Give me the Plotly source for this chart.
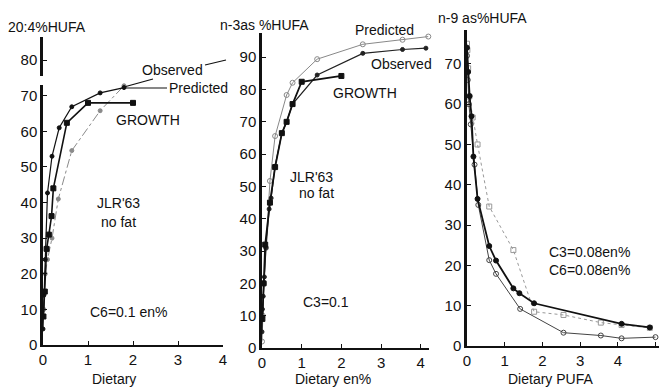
import plotly.graph_objects as go

W, H = 659, 388

# ---------------- data ----------------
# Panel 1: 20:4 as % HUFA vs dietary (en%)
p1_obs_x = [0.0, 0.02, 0.05, 0.10, 0.20, 0.36, 0.64, 1.27, 1.80]
p1_obs_y = [4.5, 14, 24, 42.7, 53, 61, 66.9, 70.8, 72.3]
p1_gro_x = [0.01, 0.04, 0.08, 0.13, 0.19, 0.23, 0.53, 1.0, 2.0]
p1_gro_y = [8, 15, 27, 31, 36.2, 44, 62.4, 68, 68]
p1_pre_x = [0.02, 0.05, 0.10, 0.20, 0.34, 0.64, 1.27, 1.80]
p1_pre_y = [10, 20, 24, 30, 41, 54.6, 65.8, 72.8]

# Panel 2: n-3 as % HUFA vs dietary en%
p2_pre_x = [0.0, 0.02, 0.05, 0.10, 0.20, 0.33, 0.62, 0.77, 1.39, 2.54, 3.54, 4.19]
p2_pre_y = [2, 10, 20, 31, 51.7, 65.6, 78.3, 82.1, 89.4, 94.0, 95.4, 96.4]
p2_obs_x = [0.0, 0.01, 0.03, 0.06, 0.10, 0.18, 0.23, 0.33, 0.50, 0.62, 0.77, 1.39, 2.54, 3.54, 4.13]
p2_obs_y = [5, 12, 16, 22, 31, 43, 46.4, 56.3, 66.5, 70, 75.5, 84.5, 91.2, 92.4, 92.8]
p2_gro_x = [0.01, 0.04, 0.08, 0.20, 0.33, 0.50, 0.62, 0.77, 1.0, 2.0]
p2_gro_y = [9, 20, 32, 45, 56, 66.5, 70, 75.5, 82.4, 84.2]

# Panel 3: n-9 as % HUFA vs dietary PUFA
p3_bold_x = [0.0, 0.03, 0.07, 0.12, 0.17, 0.28, 0.59, 0.77, 1.23, 1.39, 1.78, 4.10, 4.85]
p3_bold_y = [74, 68, 62, 57, 47, 36.5, 24.8, 21.2, 14.3, 13.1, 10.6, 5.5, 4.6]
p3_sq_x = [0.0, 0.01, 0.03, 0.06, 0.15, 0.28, 0.59, 1.23, 1.78, 2.56, 3.55, 4.10, 4.85]
p3_sq_y = [75, 73.4, 68.9, 61.9, 56.7, 50, 34.6, 23.8, 8.5, 7.7, 5.8, 5.2, 4.5]
p3_ci_x = [0.0, 0.02, 0.05, 0.10, 0.20, 0.30, 0.59, 0.77, 1.41, 2.56, 3.55, 4.10, 5.0]
p3_ci_y = [72, 66, 60, 55, 45, 35, 21.3, 17.9, 9.2, 3.3, 2.6, 1.9, 2.2]

p1_ticks = [0, 10, 20, 30, 40, 50, 60, 70, 80]
p2_ticks = [0, 10, 20, 30, 40, 50, 60, 70, 80, 90]
p3_ticks = [0, 10, 20, 30, 40, 50, 60, 70]

FONT = "Liberation Sans"
fig = go.Figure()

def tr(x, y, ax, color, width, dash, symbol, msize):
    fig.add_trace(go.Scatter(
        x=x, y=y, xaxis="x" + ax, yaxis="y" + ax, mode="lines+markers",
        line=dict(color=color, width=width, dash=dash),
        marker=dict(symbol=symbol, size=msize, color=color,
                    line=dict(color=color, width=1)),
        showlegend=False, hoverinfo="skip", cliponaxis=False))

# panel 1
tr(p1_pre_x, p1_pre_y, "", "#8a8a8a", 1, "dashdot", "circle", 4)
tr(p1_obs_x, p1_obs_y, "", "#111", 1.2, "solid", "circle", 4)
tr(p1_gro_x, p1_gro_y, "", "#111", 1.6, "solid", "square", 5)
# panel 2
tr(p2_pre_x, p2_pre_y, "2", "#888", 1, "solid", "circle-open", 5)
tr(p2_obs_x, p2_obs_y, "2", "#222", 1.2, "solid", "circle", 4)
tr(p2_gro_x, p2_gro_y, "2", "#111", 1.8, "solid", "square", 5)
# panel 3
tr(p3_sq_x, p3_sq_y, "3", "#999", 1, "dot", "square-open", 5)
tr(p3_ci_x, p3_ci_y, "3", "#444", 1, "solid", "circle-open", 5)
tr(p3_bold_x, p3_bold_y, "3", "#111", 1.8, "solid", "circle", 5)

def xa(domain, rng, ticks, anchor):
    return dict(domain=domain, range=rng, tickvals=ticks, ticktext=[str(t) for t in ticks],
                showline=True, linecolor="#111", linewidth=2, ticks="inside",
                ticklen=4, tickcolor="#111", showgrid=False, zeroline=False,
                automargin=False, anchor=anchor,
                tickfont=dict(family=FONT, size=15, color="#111"))

def ya(domain, rng, ticks, anchor):
    return dict(domain=domain, range=rng, tickvals=ticks, ticktext=[str(t) for t in ticks],
                showline=True, linecolor="#111", linewidth=2.5, ticks="inside",
                ticklen=4, tickcolor="#111", showgrid=False, zeroline=False,
                automargin=False, anchor=anchor,
                tickfont=dict(family=FONT, size=15, color="#111"))

fig.update_layout(
    width=W, height=H, margin=dict(l=0, r=0, t=0, b=0, pad=0, autoexpand=False),
    paper_bgcolor="white", plot_bgcolor="white",
    xaxis=xa([43 / W, 223 / W], [0, 4], [0, 1, 2, 3, 4], "y"),
    yaxis=ya([(H - 345) / H, (H - 37) / H], [0, 86.5], p1_ticks, "x"),
    xaxis2=xa([262 / W, 428.7 / W], [0, 4.2], [0, 1, 2, 3, 4], "y2"),
    yaxis2=ya([(H - 348) / H, (H - 33) / H], [0, 97.5], p2_ticks, "x2"),
    xaxis3=xa([467 / W, 1.0], [0, 5.093], [0, 1, 2, 3, 4, 5], "y3"),
    yaxis3=ya([(H - 346) / H, (H - 30) / H], [0, 78.4], p3_ticks, "x3"),
)

def txt(s, px, py, size=14, anchor="center"):
    fig.add_annotation(text=s, x=px / W, y=1 - py / H, xref="paper", yref="paper",
                       showarrow=False, xanchor=anchor, yanchor="middle",
                       font=dict(family=FONT, size=size, color="#111"))

# panel 1 texts
txt("20:4%HUFA", 47, 27)
txt("Observed", 172, 70)
txt("Predicted", 167, 88, anchor="left")
txt("GROWTH", 148, 120)
txt("JLR'63", 118, 203)
txt("no fat", 118, 222)
txt("C6=0.1 en%", 128, 312)
txt("Dietary", 114, 379)
# panel 2 texts
txt("n-3as %HUFA", 264, 25)
txt("Predicted", 384, 30)
txt("Observed", 401, 64)
txt("GROWTH", 365, 93)
txt("JLR'63", 311, 177)
txt("no fat", 316, 193)
txt("C3=0.1", 326, 302)
txt("Dietary en%", 333, 379)
# panel 3 texts
txt("n-9 as%HUFA", 482, 18)
txt("C3=0.08en%", 589, 252)
txt("C6=0.08en%", 589, 270)
txt("Dietary PUFA", 550, 379)

# leader lines and axis break (paper pixel coords)
def seg(x0, y0, x1, y1, w=1.2):
    fig.add_shape(type="line", xref="paper", yref="paper",
                  x0=x0 / W, y0=1 - y0 / H, x1=x1 / W, y1=1 - y1 / H,
                  line=dict(color="#111", width=w))

seg(124, 87, 153, 79)
seg(124, 88, 167, 88)
seg(205, 65, 226, 60)
fig.add_shape(type="rect", xref="paper", yref="paper",
              x0=38 / W, x1=48 / W, y0=1 - 85 / H, y1=1 - 76 / H,
              fillcolor="white", line=dict(width=0), layer="above")

fig.write_html("out.html", config={"displayModeBar": False},
               post_script="document.body.style.margin='0';")
